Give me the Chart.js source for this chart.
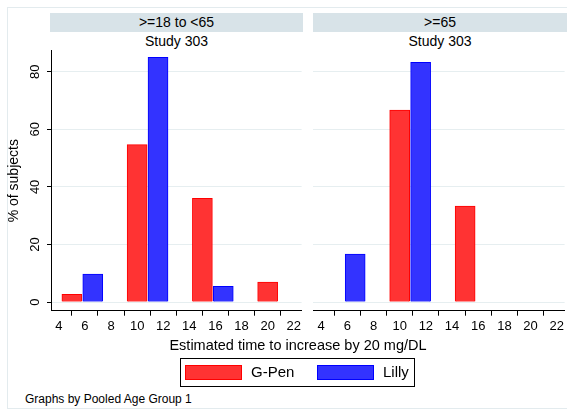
<!DOCTYPE html>
<html>
<head>
<meta charset="utf-8">
<script src="https://cdn.jsdelivr.net/npm/chart.js@4"></script>
<style>
  body { margin: 0; background: #fff; font-family: "Liberation Sans", Arial, sans-serif; }
  #wrap { position: relative; width: 567px; height: 411px; overflow: hidden; }
  .frame { position: absolute; left: 7px; top: 7px; width: 620px; height: 400px; border: 1px solid #e3ebee; }
  .strip { position: absolute; top: 13px; height: 19px; background: #d8e3e8; font-size: 14px; line-height: 19px; text-align: center; color: #000; }
  .sub { position: absolute; top: 32px; height: 18px; font-size: 14px; line-height: 18px; text-align: center; color: #000; }
  canvas { position: absolute; top: 0; }
  .xtitle { position: absolute; left: 98px; width: 400px; top: 336px; font-size: 14.5px; line-height: 18px; text-align: center; color: #000; }
  .legend { position: absolute; left: 180px; top: 358px; width: 233px; height: 27px; border: 1px solid #000; }
  .sw { position: absolute; top: 6px; width: 55px; height: 13px; border: 1px solid; }
  .lt { position: absolute; top: 4px; font-size: 15px; line-height: 18px; color: #000; }
  .note { position: absolute; left: 25px; top: 392px; font-size: 12px; line-height: 14px; color: #000; }
</style>
</head>
<body>
<div id="wrap">
  <div class="frame"></div>
  <div class="strip" style="left:50px;width:253px;">&gt;=18 to &lt;65</div>
  <div class="strip" style="left:313px;width:254px;">&gt;=65</div>
  <div class="sub" style="left:50px;width:253px;">Study 303</div>
  <div class="sub" style="left:313px;width:254px;">Study 303</div>
  <canvas id="left" width="304" height="345" style="left:0px;"></canvas>
  <canvas id="right" width="263" height="345" style="left:304px;"></canvas>
  <div class="xtitle">Estimated time to increase by 20 mg/DL</div>
  <div class="legend">
    <div class="sw" style="left:4px;background:#ff3333;border-color:#ff0000;"></div>
    <div class="lt" style="left:70px;">G-Pen</div>
    <div class="sw" style="left:136px;background:#3333ff;border-color:#0000ff;"></div>
    <div class="lt" style="left:202px;">Lilly</div>
  </div>
  <div class="note">Graphs by Pooled Age Group 1</div>
</div>
<script>
const xTicks = [4, 6, 8, 10, 12, 14, 16, 18, 20, 22];
const yTicks = [0, 20, 40, 60, 80];

// age >=18 to <65
const gpenX1 = [5, 10, 15, 20];
const gpenY1 = [2.7, 54.7, 36.0, 6.9];
const lillyX1 = [6.6, 11.6, 16.6];
const lillyY1 = [9.7, 85.0, 5.5];

// age >=65
const gpenX2 = [10, 15];
const gpenY2 = [66.7, 33.3];
const lillyX2 = [6.6, 11.6];
const lillyY2 = [16.7, 83.3];

const font = "'Liberation Sans', Arial, sans-serif";
const grid = "#e6eef0";

const toPts = (xs, ys) => xs.map((x, i) => ({ x: x, y: ys[i] }));

const yLabels = {
  id: "yLabels",
  afterDraw(chart) {
    if (!chart.options.plugins.yLabels.show) return;
    const ctx = chart.ctx;
    const y = chart.scales.y;
    ctx.save();
    ctx.fillStyle = "#000";
    ctx.font = "13px " + font;
    ctx.textAlign = "center";
    ctx.textBaseline = "middle";
    yTicks.forEach((v) => {
      ctx.save();
      ctx.translate(35, y.getPixelForValue(v));
      ctx.rotate(-Math.PI / 2);
      ctx.fillText(String(v), 0, 0);
      ctx.restore();
    });
    ctx.restore();
  },
};

function makeChart(id, gx, gy, lx, ly, withAxis) {
  return new Chart(document.getElementById(id), {
    type: "bar",
    data: {
      datasets: [
        {
          label: "G-Pen",
          data: toPts(gx, gy),
          backgroundColor: "#ff3333",
          borderColor: "#ff0000",
          borderWidth: 1,
        },
        {
          label: "Lilly",
          data: toPts(lx, ly),
          backgroundColor: "#3333ff",
          borderColor: "#0000ff",
          borderWidth: 1,
        },
      ],
    },
    options: {
      responsive: false,
      animation: false,
      devicePixelRatio: 1,
      grouped: false,
      barThickness: 20,
      layout: { padding: { top: 50.7, right: withAxis ? 0.7 : 0, left: 0, bottom: 0 } },
      plugins: {
        legend: { display: false },
        tooltip: { enabled: false },
        yLabels: { show: withAxis },
      },
      scales: {
        x: {
          type: "linear",
          min: 3.4,
          max: 22.6,
          offset: false,
          afterBuildTicks: (s) => { s.ticks = xTicks.map((v) => ({ value: v })); },
          afterFit: (s) => { s.height = 34.3; },
          border: { display: true, color: "#000", width: 1 },
          grid: { drawOnChartArea: false, drawTicks: true, tickLength: 5, tickColor: "#000" },
          ticks: { color: "#000", font: { size: 13, family: font }, padding: 3, maxRotation: 0, autoSkip: false },
        },
        y: {
          min: -3.0,
          max: 87.3,
          afterBuildTicks: (s) => { s.ticks = yTicks.map((v) => ({ value: v })); },
          afterFit: (s) => { s.width = withAxis ? 51 : 9.3; },
          border: { display: withAxis, color: "#000", width: 1 },
          grid: { color: grid, drawTicks: withAxis, tickLength: 4, tickColor: "#000" },
          ticks: { display: false },
          title: {
            display: withAxis,
            text: "% of subjects",
            color: "#000",
            font: { size: 14, family: font },
            padding: { top: 6, bottom: 0 },
          },
        },
      },
    },
    plugins: [yLabels],
  });
}

makeChart("left", gpenX1, gpenY1, lillyX1, lillyY1, true);
makeChart("right", gpenX2, gpenY2, lillyX2, lillyY2, false);
</script>
</body>
</html>
